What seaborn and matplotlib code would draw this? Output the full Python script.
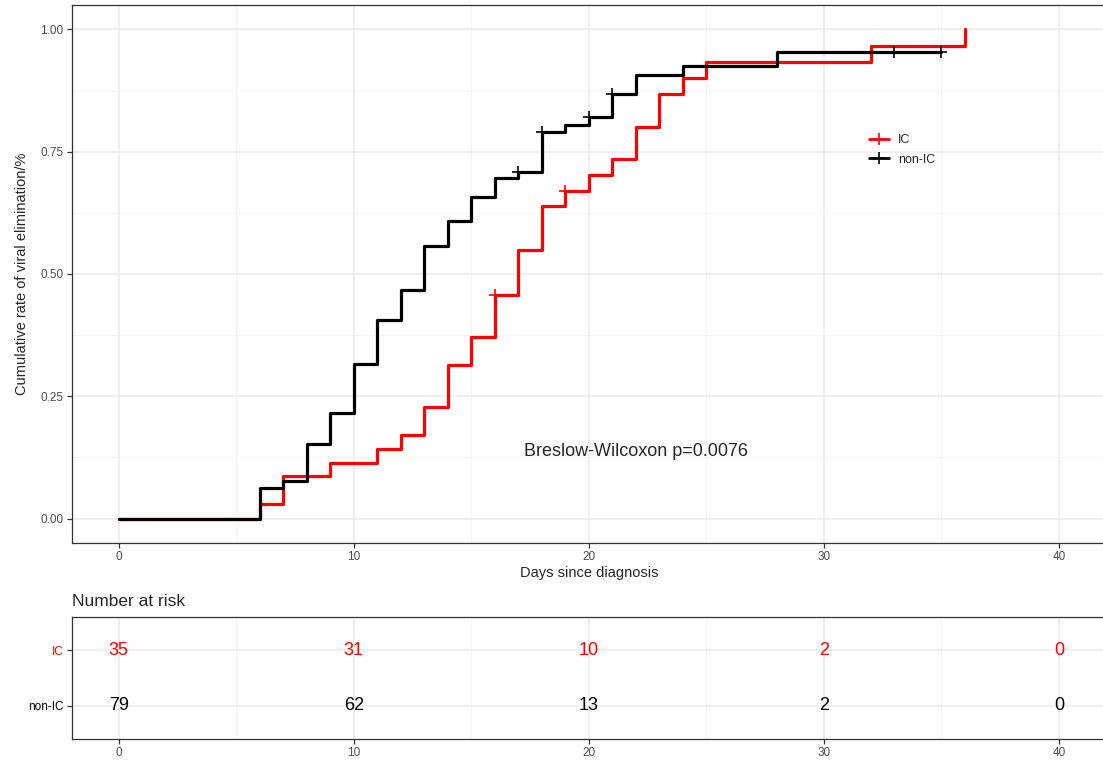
import pandas as pd
import matplotlib
matplotlib.use("Agg")
import matplotlib.pyplot as plt
from matplotlib.lines import Line2D
import seaborn as sns

# step curves (time, cumulative rate)
ic_time = [0, 6, 7, 9, 11, 12, 13, 14, 15, 16, 17, 18, 19, 20, 21, 22, 23, 24, 25, 32, 36]
ic_rate = [0, 0.029, 0.086, 0.114, 0.143, 0.171, 0.229, 0.314, 0.371, 0.457, 0.549,
           0.640, 0.669, 0.703, 0.736, 0.801, 0.868, 0.901, 0.934, 0.967, 1.0]
nonic_time = [0, 6, 7, 8, 9, 10, 11, 12, 13, 14, 15, 16, 17, 18, 19, 20, 21, 22, 24, 28, 35]
nonic_rate = [0, 0.063, 0.076, 0.152, 0.215, 0.316, 0.405, 0.468, 0.557, 0.608, 0.658,
              0.696, 0.709, 0.790, 0.804, 0.820, 0.869, 0.906, 0.925, 0.953, 0.953]

# censoring marks
ic_cens_time = [16, 19]
ic_cens_rate = [0.457, 0.669]
nonic_cens_time = [17, 18, 20, 21, 33, 35]
nonic_cens_rate = [0.709, 0.790, 0.820, 0.869, 0.953, 0.953]

# number at risk table
risk_times = [0, 10, 20, 30, 40]
risk_ic = [35, 31, 10, 2, 0]
risk_nonic = [79, 62, 13, 2, 0]

groups = ["IC", "non-IC"]
colors = {"IC": "#FF0000", "non-IC": "#000000"}

curves = pd.concat([
    pd.DataFrame({"time": ic_time, "rate": ic_rate, "group": "IC"}),
    pd.DataFrame({"time": nonic_time, "rate": nonic_rate, "group": "non-IC"}),
])
cens = pd.concat([
    pd.DataFrame({"time": ic_cens_time, "rate": ic_cens_rate, "group": "IC"}),
    pd.DataFrame({"time": nonic_cens_time, "rate": nonic_cens_rate, "group": "non-IC"}),
])
risk = pd.concat([
    pd.DataFrame({"time": risk_times, "n": risk_ic, "group": "IC", "row": 2}),
    pd.DataFrame({"time": risk_times, "n": risk_nonic, "group": "non-IC", "row": 1}),
])

sns.set_style("white")
plt.rcParams["font.family"] = ["Liberation Sans", "DejaVu Sans"]

grid_major = "#EBEBEB"
border = "#333333"
tickcol = "#4D4D4D"

fig = plt.figure(figsize=(11.03, 7.62), dpi=100)
W, H = 1103, 762


def px_axes(left, top, right, bottom):
    return fig.add_axes([left / W, 1 - bottom / H, (right - left) / W, (bottom - top) / H])


def style(ax):
    for s in ax.spines.values():
        s.set_color(border)
        s.set_linewidth(0.9)
    ax.set_xticks([0, 10, 20, 30, 40])
    ax.set_xticks([5, 15, 25, 35], minor=True)
    ax.grid(True, which="major", color=grid_major, lw=1.1)
    ax.grid(True, which="minor", color="#F3F3F3", lw=0.6)
    ax.set_axisbelow(True)
    ax.tick_params(which="major", direction="out", length=3.5, width=0.9, color=border,
                   labelsize=8.5, labelcolor=tickcol, pad=2.5, bottom=True, left=True)
    ax.tick_params(which="minor", length=0)


ax = px_axes(71.7, 5, 1106, 543)
for g in groups:
    d = curves[curves.group == g]
    sns.lineplot(data=d, x="time", y="rate", color=colors[g], lw=2.3, drawstyle="steps-post",
                 estimator=None, sort=False, ax=ax, legend=False)
    c = cens[cens.group == g]
    sns.scatterplot(data=c, x="time", y="rate", color=colors[g], marker="+", s=65,
                    linewidth=1.2, ax=ax, legend=False, zorder=5)
ax.set_xlim(-2, 42)
ax.set_ylim(-0.05, 1.05)
style(ax)
ax.set_yticks([0, 0.25, 0.5, 0.75, 1.0])
ax.set_yticks([0.125, 0.375, 0.625, 0.875], minor=True)
ax.set_yticklabels(["0.00", "0.25", "0.50", "0.75", "1.00"])
ax.set_xlabel("Days since diagnosis", fontsize=10.5, labelpad=2)
ax.set_ylabel("Cumulative rate of viral elimination/%", fontsize=10.5, labelpad=8)
ax.text(22, 0.138, "Breslow-Wilcoxon p=0.0076", fontsize=13, ha="center", va="center")

handles = [Line2D([0], [0], color=colors[g], lw=2, marker="+", markersize=9,
                  markeredgewidth=1.2) for g in groups]
ax.legend(handles, groups, loc="upper left", bbox_to_anchor=(858 / W, 1 - 123 / H),
          bbox_transform=fig.transFigure, frameon=False, fontsize=9, handlelength=1.6,
          handletextpad=0.7, labelspacing=0.6)

axr = px_axes(71.7, 617, 1106, 739)
for g in groups:
    d = risk[risk.group == g]
    for _, r in d.iterrows():
        axr.text(r.time, r.row, str(r.n), color=colors[g], fontsize=13,
                 ha="center", va="center")
axr.set_xlim(-2, 42)
axr.set_ylim(0.4, 2.6)
style(axr)
axr.set_yticks([1, 2])
axr.set_yticklabels(["non-IC", "IC"])
for lab in axr.get_yticklabels():
    lab.set_color(colors[lab.get_text()])
axr.set_xlabel("")
axr.set_ylabel("")
axr.set_title("Number at risk", loc="left", fontsize=12.5, pad=8)

fig.savefig("out.png", dpi=100)
